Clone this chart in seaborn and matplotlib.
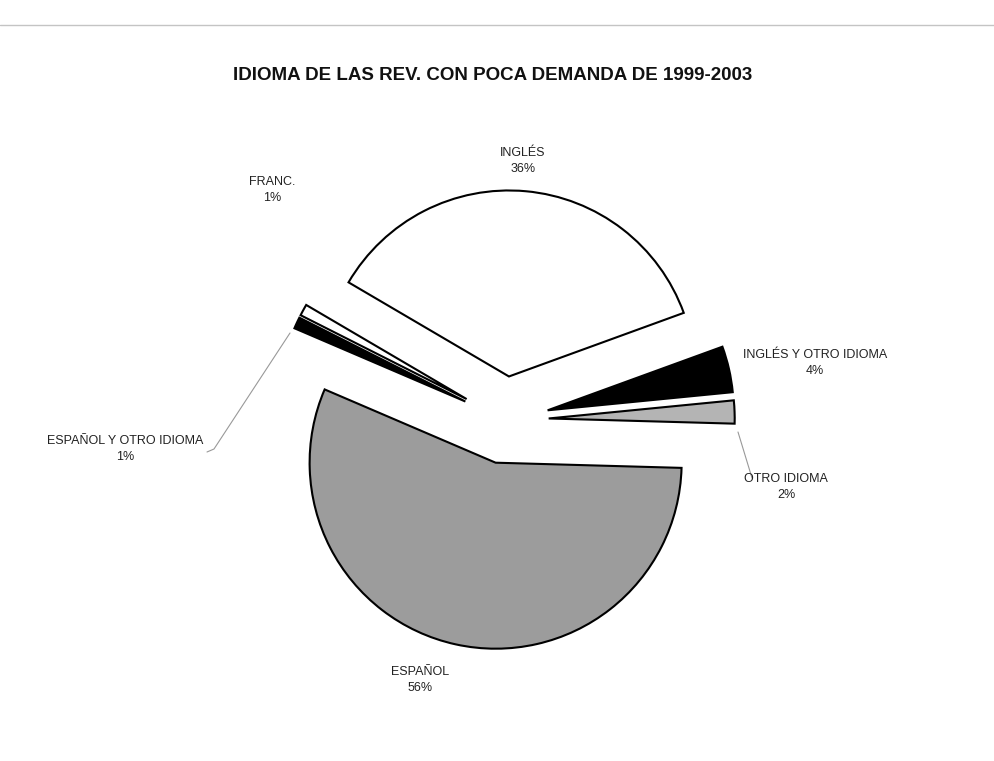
import matplotlib
matplotlib.use("Agg")
import matplotlib.pyplot as plt
import seaborn as sns

sns.set_theme(style="white")
plt.rcParams['font.family'] = ['Liberation Sans', 'DejaVu Sans']

categories = ["INGLÉS", "FRANC.", "ESPAÑOL Y OTRO IDIOMA", "ESPAÑOL", "OTRO IDIOMA", "INGLÉS Y OTRO IDIOMA"]
values = [36, 1, 1, 56, 2, 4]
colors = ["#ffffff", "#ffffff", "#000000", "#9c9c9c", "#b4b4b4", "#000000"]
title = "IDIOMA DE LAS REV. CON POCA DEMANDA DE 1999-2003"

W, H = 994, 761
fig = plt.figure(figsize=(W / 100, H / 100), dpi=100)
fig.patch.set_facecolor("white")
ax = fig.add_axes([0, 0, 1, 1])

cx, cy, R = 505, 420, 186  # pixel center and radius

wedges, _ = ax.pie(values, colors=colors, startangle=20, counterclock=True,
                   explode=[0.235] * len(values), radius=1.0,
                   wedgeprops=dict(edgecolor="black", linewidth=1.5),
                   frame=True)
ax.set_xlim(-cx / R, (W - cx) / R)
ax.set_ylim(-(H - cy) / R, cy / R)
ax.set_aspect("equal")
ax.axis("off")

def px(x, y):
    return ((x - cx) / R, (cy - y) / R)

label_px = {
    "INGLÉS": (523, 161),
    "FRANC.": (272, 190),
    "ESPAÑOL Y OTRO IDIOMA": (125, 449),
    "ESPAÑOL": (420, 680),
    "OTRO IDIOMA": (786, 487),
    "INGLÉS Y OTRO IDIOMA": (815, 363),
}
for cat, v in zip(categories, values):
    x, y = px(*label_px[cat])
    ax.text(x, y, f"{cat}\n{v}%", ha="center", va="center", fontsize=9,
            color="#222222", linespacing=1.55)

# leader lines
for pts in [[(290, 333), (214, 449), (207, 452)], [(738, 432), (752, 478)]]:
    xs, ys = zip(*[px(*p) for p in pts])
    ax.plot(xs, ys, color="#999999", lw=0.8)

fig.text(493 / W, 1 - 76 / H, title, ha="center", va="center",
         fontsize=13.5, fontweight="bold", color="#111111")

# scan border line at top
fig.add_artist(plt.Line2D([0.0, 1.0], [1 - 25 / H, 1 - 25 / H], color="#c4c4c4",
                          lw=1.0, transform=fig.transFigure))

fig.savefig("out.png", dpi=100, facecolor="white")
